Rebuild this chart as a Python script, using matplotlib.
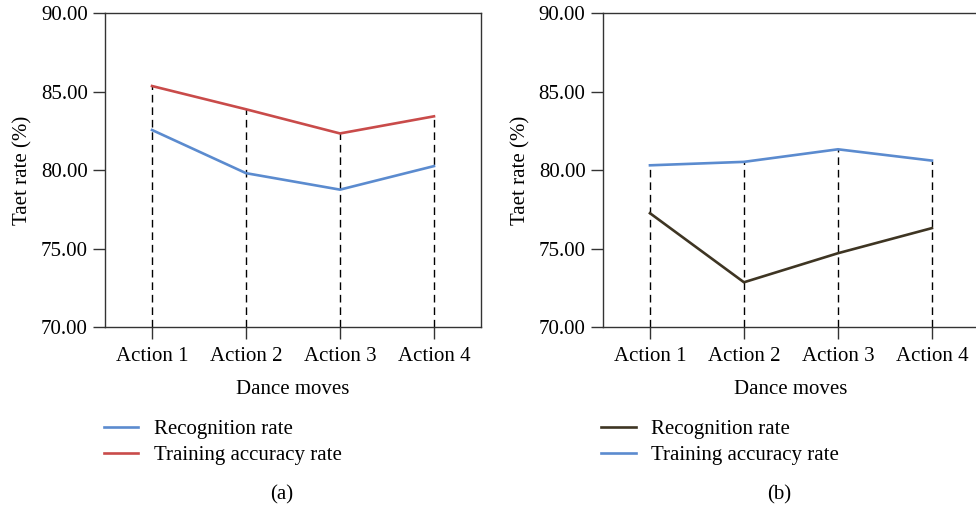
## Recognition / training accuracy per dance move, two panels

import numpy as np
import matplotlib.pyplot as plt

actions = ['Action 1', 'Action 2', 'Action 3', 'Action 4']

# panel (a)
recog_a = [82.55, 79.8, 78.75, 80.25]
train_a = [85.35, 83.87, 82.33, 83.42]

# panel (b)
recog_b = [77.25, 72.85, 74.7, 76.3]
train_b = [80.3, 80.52, 81.32, 80.6]

yticks = [70, 75, 80, 85, 90]

BLUE = '#5b8bcf'
RED = '#c94b4a'
DARK = '#3e3523'

plt.rcParams['font.family'] = ['Liberation Serif', 'DejaVu Serif']
plt.rcParams['font.size'] = 15

fig = plt.figure(figsize=(9.76, 5.07), dpi=100)
ax_a = fig.add_axes([0.1076, 0.355, 0.3852, 0.6193])
ax_b = fig.add_axes([0.6178, 0.355, 0.3852, 0.6193])


def draw_panel(ax, recog, train, recog_col, train_col, tag):
	x = np.arange(1, len(actions) + 1)
	top = np.maximum(recog, train)
	# dashed drop lines from the highest point down to the axis
	ax.vlines(x, 70, top, colors='black', linestyles=(0, (5.5, 3.5)), linewidth=1.0, zorder=1)
	ax.plot(x, recog, color=recog_col, linewidth=1.9, label='Recognition rate', zorder=3)
	ax.plot(x, train, color=train_col, linewidth=1.9, label='Training accuracy rate', zorder=3)
	ax.set_xlim(0.5, 4.5)
	ax.set_ylim(70, 90)
	ax.set_xticks(x)
	ax.set_xticklabels(actions)
	ax.set_yticks(yticks)
	ax.set_yticklabels(['%.2f' % v for v in yticks])
	ax.tick_params(direction='out', length=8.5, width=1.0, color='#333333', pad=4)
	ax.tick_params(axis='x', pad=6)
	for s in ax.spines.values():
		s.set_color('#333333')
		s.set_linewidth(1.0)
	ax.set_xlabel('Dance moves', labelpad=10)
	ax.set_ylabel('Taet rate (%)', labelpad=6)
	ax.legend(loc='upper left', bbox_to_anchor=(-0.004, -0.295), frameon=False,
		handlelength=1.65, handletextpad=0.75, labelspacing=0.3, borderpad=0, borderaxespad=0)
	ax.text(0.47, -0.536, tag, transform=ax.transAxes, ha='center', va='center')


draw_panel(ax_a, recog_a, train_a, BLUE, RED, '(a)')
draw_panel(ax_b, recog_b, train_b, DARK, BLUE, '(b)')

fig.savefig('out.png', dpi=100)
